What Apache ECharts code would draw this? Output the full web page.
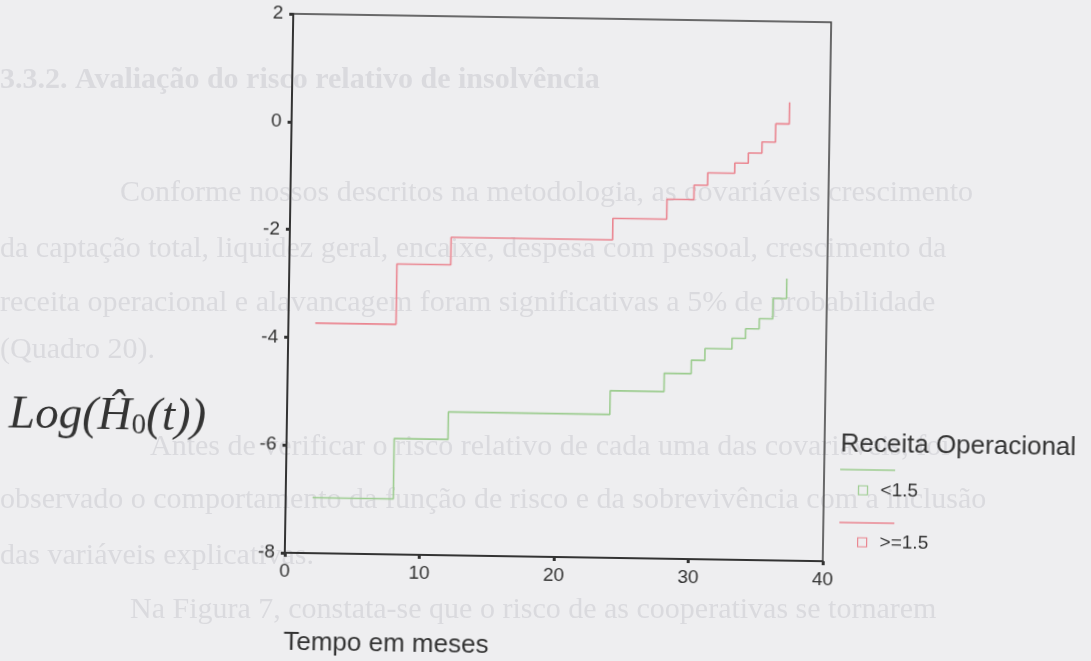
<!DOCTYPE html>
<html>
<head>
<meta charset="utf-8">
<title>Log(H0(t)) x Tempo em meses</title>
<script src="https://cdn.jsdelivr.net/npm/echarts@6.0.0/dist/echarts.min.js"></script>
<style>
  html, body { margin: 0; padding: 0; background: #eeeef0; overflow: hidden; }
  #page, #chart { position: absolute; left: 0; top: 0; width: 1091px; height: 661px; }
  /* the scanned figure sits slightly tilted on the page */
  #chart { transform: rotate(0.9deg); transform-origin: 557.75px 287.5px; }
</style>
</head>
<body>
<div id="page"></div>
<div id="chart"></div>
<script>
// tempos (meses) em que a curva sobe
const timeMonths = [2, 8, 12, 24, 28, 30, 31, 33, 34, 35, 36, 37];
// log do risco acumulado de base, Receita Operacional < 1.5
const logHLow = [-6.97, -5.85, -5.34, -4.90, -4.56, -4.31, -4.09, -3.89, -3.71, -3.52, -3.14, -2.77];
// log do risco acumulado de base, Receita Operacional >= 1.5
const logHHigh = [-3.73, -2.61, -2.10, -1.70, -1.33, -1.06, -0.83, -0.64, -0.45, -0.24, 0.10, 0.50];
const groupNames = ['<1.5', '>=1.5'];
const xTicks = [0, 10, 20, 30, 40];
const yTicks = [-8, -6, -4, -2, 0, 2];

// texto da página que aparece por transparência no scan
const pageLines = [
  '3.3.2. Avaliação do risco relativo de insolvência',
  'Conforme nossos descritos na metodologia, as covariáveis crescimento',
  'da captação total, liquidez geral, encaixe, despesa com pessoal, crescimento da',
  'receita operacional e alavancagem foram significativas a 5% de probabilidade',
  '(Quadro 20).',
  'Antes de verificar o risco relativo de cada uma das covariáveis, foi',
  'observado o comportamento da função de risco e da sobrevivência com a inclusão',
  'das variáveis explicativas.',
  'Na Figura 7, constata-se que o risco de as cooperativas se tornarem'
];

const GREEN = '#9ccc8f';
const RED = '#ea8590';
const INK = '#333333';

// fundo: página escaneada
const pageChart = echarts.init(document.getElementById('page'));
const lineX = [0, 120, 0, 0, 0, 150, 0, 0, 130];
const lineY = [80, 193, 249, 303, 350, 447, 500, 556, 610];
pageChart.setOption({
  backgroundColor: '#eeeef0',
  graphic: pageLines.map((t, i) => ({
    type: 'text',
    x: lineX[i],
    y: lineY[i],
    silent: true,
    style: {
      text: t,
      fill: '#dadade',
      font: (i === 0 ? 'bold ' : '') + '30px "Liberation Serif"',
      verticalAlign: 'middle'
    }
  }))
});

// gráfico
const chart = echarts.init(document.getElementById('chart'));

const makeSeries = (name, values, color) => ({
  name: name,
  type: 'line',
  step: 'end',
  symbol: 'none',
  silent: true,
  data: timeMonths.map((t, i) => [t, values[i]]),
  lineStyle: { color: color, width: 1.6 },
  itemStyle: { color: color }
});

chart.setOption({
  backgroundColor: 'transparent',
  animation: false,
  title: [
    {
      text: '{a|Log(Ĥ}{b|0}{a|(t))}',
      left: 6,
      top: 386,
      textStyle: {
        fontWeight: 'normal',
        rich: {
          a: { fontFamily: 'Liberation Serif', fontStyle: 'italic', fontWeight: 'normal', fontSize: 47, lineHeight: 56, color: INK, verticalAlign: 'bottom' },
          b: { fontFamily: 'Liberation Serif', fontWeight: 'normal', fontSize: 29, lineHeight: 40, color: INK, verticalAlign: 'bottom' }
        }
      }
    },
    {
      text: 'Tempo em meses',
      left: 284,
      top: 629,
      textStyle: { fontFamily: 'Liberation Sans', fontSize: 26, fontWeight: 'normal', color: INK }
    },
    {
      text: 'Receita Operacional',
      left: 838,
      top: 422,
      textStyle: { fontFamily: 'Liberation Sans', fontSize: 26, fontWeight: 'normal', color: INK }
    }
  ],
  legend: {
    orient: 'vertical',
    left: 856,
    top: 471,
    itemWidth: 9,
    itemHeight: 9,
    itemGap: 33,
    selectedMode: false,
    data: [
      { name: groupNames[0], icon: 'rect', itemStyle: { color: 'rgba(0,0,0,0)', borderColor: GREEN, borderWidth: 1.2 } },
      { name: groupNames[1], icon: 'rect', itemStyle: { color: 'rgba(0,0,0,0)', borderColor: RED, borderWidth: 1.2 } }
    ],
    textStyle: { fontFamily: 'Liberation Sans', fontSize: 19, color: INK, padding: [12, 0, 0, 8] }
  },
  // traços de linha da legenda
  graphic: [
    { type: 'line', silent: true, shape: { x1: 843, y1: 465, x2: 898, y2: 465 }, style: { stroke: GREEN, lineWidth: 1.6 } },
    { type: 'line', silent: true, shape: { x1: 843, y1: 518, x2: 898, y2: 518 }, style: { stroke: RED, lineWidth: 1.6 } }
  ],
  grid: {
    left: 289,
    top: 18,
    width: 538,
    height: 539,
    show: true,
    borderColor: '#3c3c3c',
    borderWidth: 1.5,
    backgroundColor: 'transparent'
  },
  xAxis: {
    type: 'value',
    min: xTicks[0],
    max: xTicks[xTicks.length - 1],
    interval: xTicks[1] - xTicks[0],
    splitLine: { show: false },
    axisLine: { onZero: false, lineStyle: { color: '#333', width: 2 } },
    axisTick: { length: 4, lineStyle: { color: '#333', width: 3 } },
    axisLabel: { fontFamily: 'Liberation Sans', fontSize: 19, color: INK, margin: 9 }
  },
  yAxis: {
    type: 'value',
    min: yTicks[0],
    max: yTicks[yTicks.length - 1],
    interval: yTicks[1] - yTicks[0],
    splitLine: { show: false },
    axisLine: { onZero: false, lineStyle: { color: '#333', width: 2 } },
    axisTick: { length: 4, lineStyle: { color: '#333', width: 3 } },
    axisLabel: { fontFamily: 'Liberation Sans', fontSize: 19, color: INK, margin: 10 }
  },
  series: [
    makeSeries(groupNames[0], logHLow, GREEN),
    makeSeries(groupNames[1], logHHigh, RED)
  ]
});
</script>
</body>
</html>
